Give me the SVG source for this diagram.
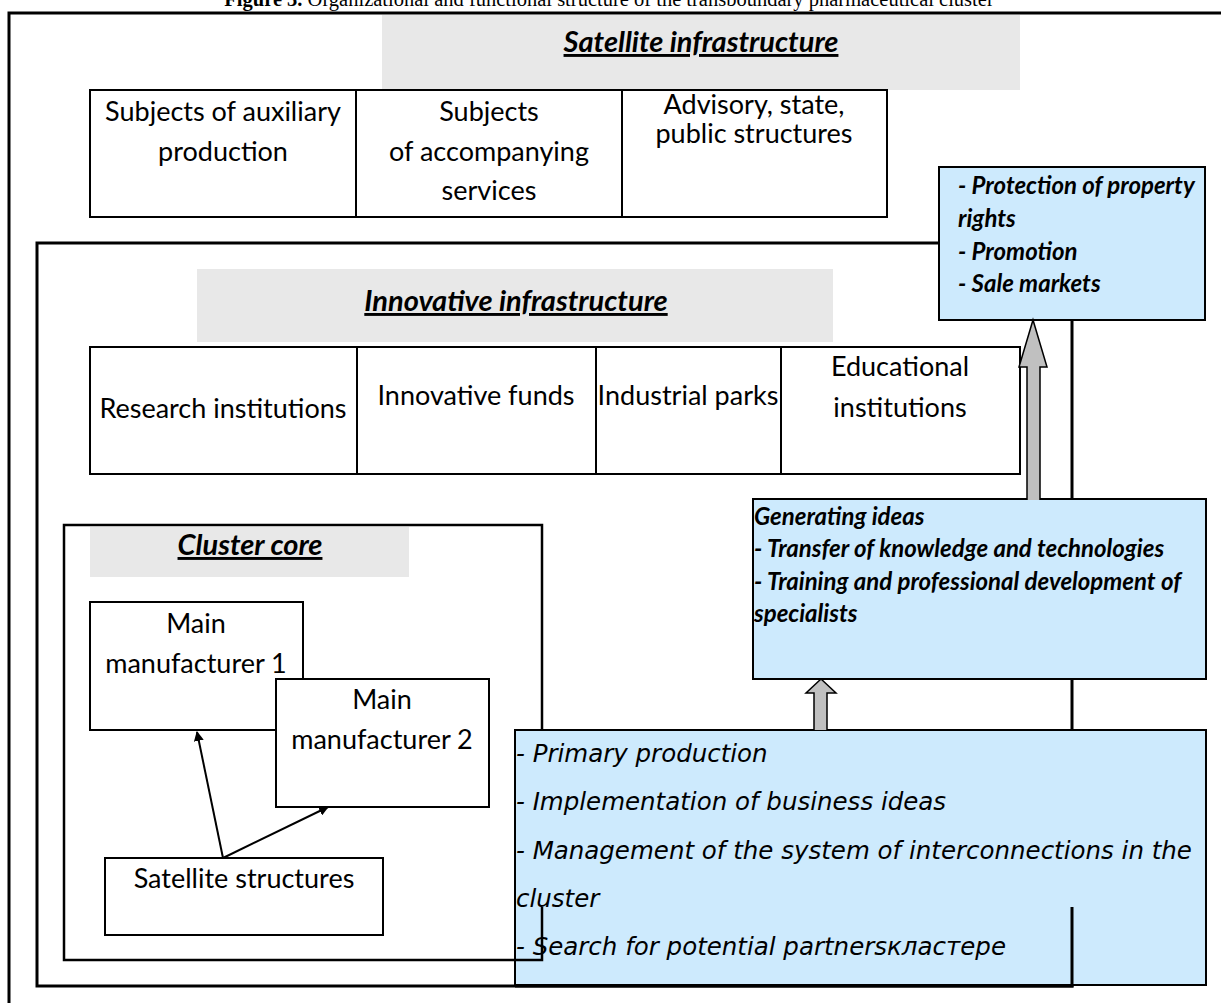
<svg xmlns="http://www.w3.org/2000/svg" width="1221" height="1003" viewBox="0 0 1221 1003">
<defs>
<style>
.t{font-family:Lato,"Liberation Sans",sans-serif;font-size:27px;fill:#000;text-anchor:middle}
.h{font-family:Lato,"Liberation Sans",sans-serif;font-size:29px;font-weight:bold;font-style:italic;text-decoration:underline;fill:#000;text-anchor:middle}
.b{font-family:Lato,"Liberation Sans",sans-serif;font-size:24px;font-weight:bold;font-style:italic;fill:#000}
.s{font-family:"DejaVu Sans",sans-serif;font-size:24.5px;font-style:italic;fill:#000}
.box{fill:#fff;stroke:#000;stroke-width:2}
.blue{fill:#cdeafd;stroke:#000;stroke-width:2}
.grey{fill:#e8e8e8}
.ln{fill:none;stroke:#000;stroke-width:3}
.big{fill:#c0c0c0;stroke:#000;stroke-width:1.5}
</style>
<marker id="ah" markerWidth="10" markerHeight="10" refX="9" refY="5" orient="auto" markerUnits="userSpaceOnUse" viewBox="0 0 10 10">
<path d="M0,0 L10,5 L0,10 Z" fill="#000"/>
</marker>
</defs>
<rect width="1221" height="1003" fill="#fff"/>
<text x="609" y="6" style="font-family:'Liberation Serif',serif;font-size:20.5px;text-anchor:middle"><tspan font-weight="bold">Figure 3.</tspan> Organizational and functional structure of the transboundary pharmaceutical cluster</text>
<g id="outer-frame">
<path class="ln" d="M1221,13 H9 V1003"/>
</g>
<g id="satellite-infrastructure">
<rect class="grey" x="382" y="15" width="638" height="75"/>
<text class="h" x="701" y="52">Satellite infrastructure</text>
</g>
<g id="sat-aux">
<rect class="box" x="90" y="90" width="266" height="127"/>
<text class="t" x="223" y="121">Subjects of auxiliary</text>
<text class="t" x="223" y="161">production</text>
</g>
<g id="sat-services">
<rect class="box" x="356" y="90" width="266" height="127"/>
<text class="t" x="489" y="121">Subjects</text>
<text class="t" x="489" y="161">of accompanying</text>
<text class="t" x="489" y="200">services</text>
</g>
<g id="sat-advisory">
<rect class="box" x="622" y="90" width="265" height="127"/>
<text class="t" x="754" y="114">Advisory, state,</text>
<text class="t" x="754" y="143">public structures</text>
</g>
<g id="innovative-frame">
<rect class="ln" x="37" y="243" width="1035" height="743"/>
</g>
<g id="innovative-infrastructure">
<rect class="grey" x="197" y="269" width="636" height="73"/>
<text class="h" x="516" y="311">Innovative infrastructure</text>
</g>
<g id="inn-research">
<rect class="box" x="90" y="347" width="267" height="127"/>
<text class="t" x="223" y="418">Research institutions</text>
</g>
<g id="inn-funds">
<rect class="box" x="357" y="347" width="239" height="127"/>
<text class="t" x="476" y="405">Innovative funds</text>
</g>
<g id="inn-parks">
<rect class="box" x="596" y="347" width="185" height="127"/>
<text class="t" x="688" y="405">Industrial parks</text>
</g>
<g id="inn-education">
<rect class="box" x="781" y="347" width="239" height="127"/>
<text class="t" x="900" y="376">Educational</text>
<text class="t" x="900" y="417">institutions</text>
</g>
<g id="cluster-core">
<rect x="64" y="525" width="478" height="435" fill="none" stroke="#000" stroke-width="2.5"/>
<rect class="grey" x="90" y="527" width="319" height="50"/>
<text class="h" x="250" y="555">Cluster core</text>
</g>
<g id="main-manufacturer-1">
<rect class="box" x="90" y="602" width="213" height="128"/>
<text class="t" x="196" y="633">Main</text>
<text class="t" x="196" y="673">manufacturer 1</text>
</g>
<g id="main-manufacturer-2">
<rect class="box" x="276" y="679" width="213" height="128"/>
<text class="t" x="382" y="709">Main</text>
<text class="t" x="382" y="749">manufacturer 2</text>
</g>
<g id="satellite-structures">
<rect class="box" x="105" y="858" width="278" height="77"/>
<text class="t" x="244" y="888">Satellite structures</text>
</g>
<g id="functions-top">
<rect class="blue" x="939" y="167" width="266" height="153"/>
<text class="b" x="958" y="194">- Protection of property</text>
<text class="b" x="958" y="227">rights</text>
<text class="b" x="958" y="260">- Promotion</text>
<text class="b" x="958" y="292">- Sale markets</text>
</g>
<g id="functions-middle">
<rect class="blue" x="753" y="499" width="453" height="180"/>
<text class="b" x="754" y="525">Generating ideas</text>
<text class="b" x="754" y="557">- Transfer of knowledge and technologies</text>
<text class="b" x="754" y="590">- Training and professional development of</text>
<text class="b" x="754" y="622">specialists</text>
</g>
<g id="functions-bottom">
<rect class="blue" x="515" y="730" width="691" height="255"/>
<text class="s" x="516" y="762">- Primary production</text>
<text class="s" x="516" y="810">- Implementation of business ideas</text>
<text class="s" x="516" y="859">- Management of the system of interconnections in the</text>
<text class="s" x="516" y="907">cluster</text>
<text class="s" x="516" y="955">- Search for potential partnersкластере</text>
</g>
<g id="connectors">
<path class="ln" d="M1072,907 V986 H515"/>
<path d="M542,907 V960 H515" fill="none" stroke="#000" stroke-width="2.5"/>
<path class="big" d="M1027,500 V367 H1019 L1033,320 L1047,367 H1040 V500"/>
<path class="big" d="M814,730 V693 H806 L821,679 L836,693 H827 V730"/>
<line x1="223" y1="858" x2="197" y2="732" stroke="#000" stroke-width="2" marker-end="url(#ah)"/>
<line x1="223" y1="858" x2="328" y2="807" stroke="#000" stroke-width="2" marker-end="url(#ah)"/>
</g>
</svg>
